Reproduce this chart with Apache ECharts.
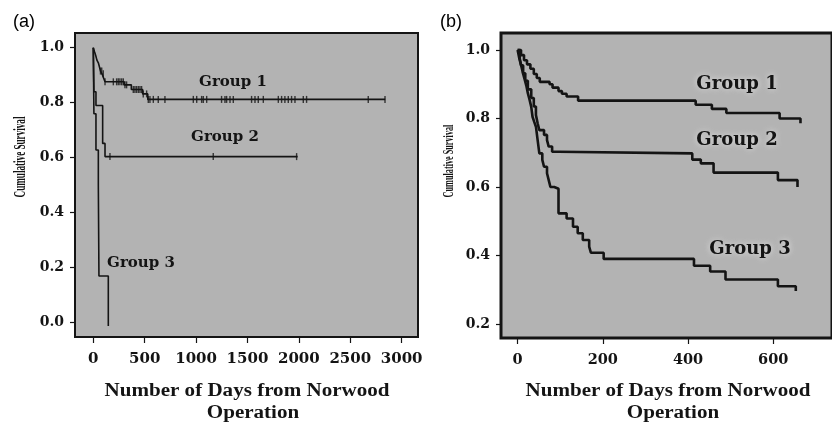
<!DOCTYPE html>
<html>
<head>
<meta charset="utf-8">
<script src="https://cdn.jsdelivr.net/npm/echarts@6/dist/echarts.min.js"></script>
<style>
  html, body { margin: 0; padding: 0; background: #ffffff; }
  #chart { width: 832px; height: 422px; }
</style>
</head>
<body>
<div id="chart"></div>
<script>
// tick labels
var daysTicksA = [0, 500, 1000, 1500, 2000, 2500, 3000];
var daysTicksB = [0, 200, 400, 600];
var survTicksA = [0, 0.2, 0.4, 0.6, 0.8, 1.0];
var survTicksB = [0.2, 0.4, 0.6, 0.8, 1.0];

// panel (a): Kaplan-Meier steps [day, survival]
var groupA1 = [[0,1.0],[12,0.985],[25,0.97],[35,0.955],[49,0.945],[60,0.93],[70,0.915],[85,0.905],[100,0.89],[114,0.876],
  [300,0.865],[370,0.848],[480,0.832],[530,0.812],[2840,0.812]];
var groupA2 = [[0,1.0],[6,0.84],[26,0.79],[91,0.652],[114,0.604],[1988,0.604]];
var groupA3 = [[0,1.0],[6,0.76],[26,0.628],[49,0.5],[55,0.17],[146,-0.012]];

// panel (a): censored observations (days)
var censorA1 = [70, 82, 97, 114, 195, 227, 243, 259, 276, 292, 308, 324, 389, 405, 421, 438, 454, 470, 486,
  519, 535, 551, 584, 632, 697, 973, 1006, 1054, 1070, 1103, 1248, 1281, 1297, 1330, 1362,
  1540, 1573, 1605, 1654, 1800, 1832, 1864, 1897, 1929, 1962, 2043, 2075, 2675, 2838];
var censorA2 = [162, 1167, 1978];

// panel (b)
var groupB1 = [[0,1.0],[8,0.985],[15,0.97],[22,0.958],[30,0.945],[38,0.93],[45,0.918],[52,0.907],[75,0.9],[82,0.89],
  [96,0.88],[104,0.872],[115,0.864],[142,0.852],[418,0.84],[456,0.828],[490,0.816],[615,0.8],[664,0.786]];
var groupB2 = [[0,1.0],[4,0.975],[8,0.955],[13,0.932],[18,0.91],[24,0.885],[32,0.86],[38,0.835],[43,0.81],[47,0.786],
  [51,0.766],[62,0.752],[69,0.737],[73,0.718],[81,0.703],[96,0.698],[410,0.68],[430,0.669],[460,0.642],[611,0.62],[657,0.6]];
var groupB3 = [[0,1.0],[5,0.975],[9,0.951],[13,0.93],[17,0.912],[21,0.893],[24,0.874],[28,0.855],[32,0.834],[35,0.805],
  [39,0.79],[43,0.776],[47,0.737],[51,0.698],[58,0.679],[62,0.659],[69,0.64],[73,0.62],[77,0.6],[86,0.595],[96,0.523],
  [115,0.508],[130,0.484],[141,0.465],[153,0.445],[168,0.426],[172,0.408],[202,0.39],[414,0.37],[452,0.353],
  [488,0.33],[611,0.31],[653,0.296]];

var ink = '#141414';
var plotBg = '#b3b3b3';

function survivalAt(curve, day) {
  var v = curve[0][1];
  for (var i = 0; i < curve.length; i++) {
    if (curve[i][0] <= day) v = curve[i][1];
  }
  return v;
}

function censorPoints(curve, days) {
  var out = [];
  for (var i = 0; i < days.length; i++) out.push([days[i], survivalAt(curve, days[i])]);
  return out;
}

function stepLine(data, xi, w) {
  return {
    type: 'line', step: 'end', data: data, xAxisIndex: xi, yAxisIndex: xi,
    symbol: 'none', silent: true, animation: false,
    lineStyle: { color: ink, width: w }
  };
}

function censorSeries(data) {
  return {
    type: 'scatter', data: data, xAxisIndex: 0, yAxisIndex: 0,
    symbol: 'rect', symbolSize: [1.4, 7], silent: true, animation: false, z: 3,
    itemStyle: { color: ink }
  };
}

function xAxisCfg(gi, min, max, ticks, fs) {
  return {
    type: 'value', gridIndex: gi, min: min, max: max,
    splitLine: { show: false },
    axisLine: { show: true, onZero: false, lineStyle: { color: ink, width: 2 } },
    axisTick: { show: true, customValues: ticks, length: 6, lineStyle: { color: ink, width: 1.2 } },
    axisLabel: {
      customValues: ticks, margin: 15, color: ink, fontFamily: 'DejaVu Serif', fontWeight: 'bold', fontSize: fs,
      formatter: function (v) { return String(v); }
    }
  };
}

function yAxisCfg(gi, min, max, ticks) {
  return {
    type: 'value', gridIndex: gi, min: min, max: max,
    splitLine: { show: false },
    axisLine: { show: true, onZero: false, lineStyle: { color: ink, width: 2 } },
    axisTick: { show: true, customValues: ticks, length: 5, lineStyle: { color: ink, width: 1.2 } },
    axisLabel: {
      customValues: ticks, margin: 11, color: ink, fontFamily: 'DejaVu Serif', fontWeight: 'bold', fontSize: 14,
      formatter: function (v) { return v.toFixed(1); }
    }
  };
}

function txt(x, y, s, font, extra) {
  var st = { text: s, font: font, fill: ink, align: 'center', verticalAlign: 'middle' };
  var el = { type: 'text', x: x, y: y, style: st, silent: true };
  if (extra) {
    for (var k in extra) {
      if (k === 'style') { for (var j in extra.style) st[j] = extra.style[j]; }
      else el[k] = extra[k];
    }
  }
  return el;
}

var chart = echarts.init(document.getElementById('chart'), null, { renderer: 'canvas' });

var halo = { style: { textShadowColor: 'rgba(230,230,230,0.95)', textShadowBlur: 6 } };

var option = {
  backgroundColor: '#ffffff',
  animation: false,
  grid: [
    { left: 75, top: 33, width: 343, height: 304, show: true, backgroundColor: plotBg, borderColor: ink, borderWidth: 2 },
    { left: 501, top: 33, width: 343, height: 305, show: true, backgroundColor: plotBg, borderColor: ink, borderWidth: 3 }
  ],
  xAxis: [
    xAxisCfg(0, -178, 3159, daysTicksA, 15),
    xAxisCfg(1, -39, 738, daysTicksB, 14.5)
  ],
  yAxis: [
    yAxisCfg(0, -0.052, 1.0535, survTicksA),
    yAxisCfg(1, 0.159, 1.0496, survTicksB)
  ],
  series: [
    stepLine(groupA1, 0, 1.6),
    stepLine(groupA2, 0, 1.6),
    stepLine(groupA3, 0, 1.6),
    censorSeries(censorPoints(groupA1, censorA1)),
    censorSeries(censorPoints(groupA2, censorA2)),
    stepLine(groupB1, 1, 2.6),
    stepLine(groupB2, 1, 2.6),
    stepLine(groupB3, 1, 2.6)
  ],
  graphic: [
    txt(24, 22, '(a)', '18px "Liberation Sans"', { style: { fill: '#000' } }),
    txt(451, 22, '(b)', '18px "Liberation Sans"', { style: { fill: '#000' } }),

    txt(21, 157, 'Cumulative Survival', 'bold 16px "Liberation Serif"', { rotation: Math.PI / 2, scaleX: 0.57 }),
    txt(449, 161, 'Cumulative Survival', 'bold 15.5px "Liberation Serif"', { rotation: Math.PI / 2, scaleX: 0.53 }),

    txt(247, 391, 'Number of Days from Norwood', 'bold 18px "Liberation Serif"', { scaleX: 1.17 }),
    txt(253, 413, 'Operation', 'bold 18px "Liberation Serif"', { scaleX: 1.17 }),
    txt(668, 391, 'Number of Days from Norwood', 'bold 18px "Liberation Serif"', { scaleX: 1.17 }),
    txt(673, 413, 'Operation', 'bold 18px "Liberation Serif"', { scaleX: 1.17 }),

    txt(233, 82, 'Group 1', 'bold 15px "DejaVu Serif"'),
    txt(225, 137, 'Group 2', 'bold 15px "DejaVu Serif"'),
    txt(141, 263, 'Group 3', 'bold 15px "DejaVu Serif"'),

    txt(737, 84, 'Group 1', 'bold 18px "DejaVu Serif"', halo),
    txt(737, 140, 'Group 2', 'bold 18px "DejaVu Serif"', halo),
    txt(750, 249, 'Group 3', 'bold 18px "DejaVu Serif"', halo)
  ]
};

chart.setOption(option);
</script>
</body>
</html>
